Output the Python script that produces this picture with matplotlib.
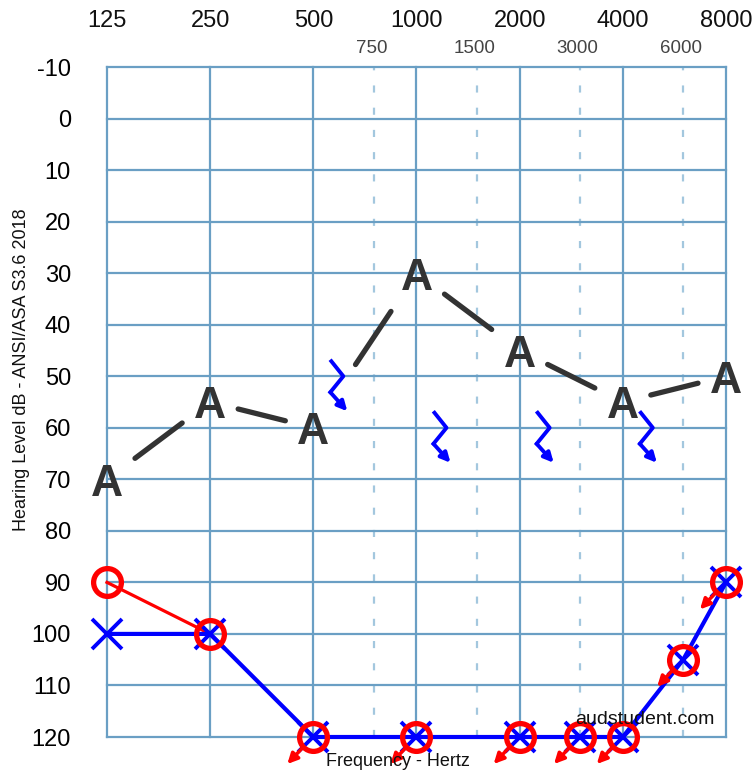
import matplotlib.pyplot as plt
from matplotlib.transforms import ScaledTranslation
from matplotlib.patches import FancyArrowPatch
import numpy as np

plt.rcParams['font.family'] = ['Liberation Sans', 'DejaVu Sans']

# audiogram data
octave_freqs = [125, 250, 500, 1000, 2000, 4000, 8000]
inter_freqs = [750, 1500, 3000, 6000]
db_ticks = [-10, 0, 10, 20, 30, 40, 50, 60, 70, 80, 90, 100, 110, 120]

aided_freqs = [125, 250, 500, 1000, 2000, 4000, 8000]
aided_db = [70, 55, 60, 30, 45, 55, 50]

bone_freqs = [500, 1000, 2000, 4000]
bone_db = [50, 60, 60, 60]

ac_freqs = [125, 250, 500, 1000, 2000, 3000, 4000, 6000, 8000]
right_db = [90, 100, 120, 120, 120, 120, 120, 105, 90]
right_nr = [False, False, True, True, True, True, True, True, True]
left_db = [100, 100, 120, 120, 120, 120, 120, 105, 90]

grid_col = '#6a9fc4'
dash_col = '#a3c7de'

fig = plt.figure(figsize=(7.55, 7.74), dpi=100)
ax = fig.add_axes([107 / 755, 1 - 737 / 774, 619 / 755, 670 / 774])
ax.set_xscale('log', base=2)
ax.set_xlim(125, 8000)
ax.set_ylim(120, -10)
for s in ax.spines.values():
    s.set_visible(False)
ax.set_xticks([])
ax.minorticks_off()
ax.tick_params(axis='x', which='both', length=0, labelbottom=False)
ax.set_yticks(db_ticks)
ax.set_yticklabels([str(t) for t in db_ticks], fontsize=17)
ax.tick_params(axis='y', length=0, pad=26)

# grid
for f in octave_freqs:
    ax.axvline(f, color=grid_col, lw=1.6, zorder=1, clip_on=False)
for f in inter_freqs:
    ax.axvline(f, color=dash_col, lw=1.6, ls=(0, (3.2, 6.8)), zorder=1)
for t in db_ticks:
    ax.axhline(t, color=grid_col, lw=1.6, zorder=1, clip_on=False)

# frequency labels on top
xt = ax.get_xaxis_transform()
narrow = ['Liberation Sans Narrow', 'Liberation Sans', 'DejaVu Sans']
for f in octave_freqs:
    ax.text(f, 1.069, str(f), transform=xt, ha='center', va='center',
            fontsize=17, family=narrow, color='#111111')
for f in inter_freqs:
    ax.text(f * 0.985, 1.027, str(f), transform=xt, ha='center', va='center',
            fontsize=13.5, family=narrow, color='#444444')


def px_trans(x, y):
    # local coordinates in inches around a data point
    return fig.dpi_scale_trans + ScaledTranslation(x, y, ax.transData)


# aided "A" symbols
for f, v in zip(aided_freqs, aided_db):
    ax.text(0, -0.165, 'A', transform=px_trans(f, v), ha='center', va='baseline',
            fontsize=32, fontweight='bold', color='#333333', zorder=6)

# connecting segments, stopped short of the letters
hw, hh = 28, 24
bone_at = dict(zip(bone_freqs, bone_db))
for i in range(len(aided_freqs) - 1):
    f1, f2 = aided_freqs[i], aided_freqs[i + 1]
    v1, v2 = aided_db[i], aided_db[i + 1]
    p1 = ax.transData.transform((f1, v1))
    p2 = ax.transData.transform((f2, v2))
    d = p2 - p1
    L = np.hypot(*d)
    c, s = abs(d[0]) / L, abs(d[1]) / L
    gap = min(hw / c if c > 0 else 1e9, hh / s if s > 0 else 1e9)
    gap_a, gap_b = gap, gap
    if f1 in bone_at and min(v1, v2) < bone_at[f1] < max(v1, v2):
        # keep clear of the bone symbol sitting in the segment's path
        gap_a, gap_b = 76, 46
    ax.annotate('', xy=(f2, v2), xytext=(f1, v1),
                arrowprops=dict(arrowstyle='-', lw=3.8, color='#333333',
                                shrinkA=gap_a * 0.72, shrinkB=gap_b * 0.72))

# bone conduction no-response symbols
for f, v in zip(bone_freqs, bone_db):
    tr = px_trans(f, v)
    ax.plot([0.18, 0.30, 0.17], [0.15, 0.0, -0.16], color='blue', lw=2.8,
            transform=tr, clip_on=False, zorder=5)
    ax.add_patch(FancyArrowPatch((0.17, -0.16), (0.34, -0.35), transform=tr,
                                 arrowstyle='-|>', mutation_scale=14, color='blue',
                                 lw=2.8, shrinkA=0, shrinkB=0, zorder=5,
                                 clip_on=False))

# air conduction
ax.plot(ac_freqs[:2], right_db[:2], color='red', lw=2.3, zorder=3, clip_on=False)
ax.plot(ac_freqs, left_db, color='blue', lw=3, zorder=4, clip_on=False)
ax.plot(ac_freqs, left_db, 'x', ms=21, mew=2.8, color='blue', zorder=4, clip_on=False)
ax.plot(ac_freqs, right_db, 'o', ms=20, mfc='none', mec='red', mew=3.8,
        zorder=5, clip_on=False)
for f, v, nr in zip(ac_freqs, right_db, right_nr):
    if nr:
        ax.add_patch(FancyArrowPatch((-0.11, -0.11), (-0.26, -0.27),
                                     transform=px_trans(f, v), arrowstyle='-|>',
                                     mutation_scale=15, color='red', lw=2.5,
                                     shrinkA=0, shrinkB=0, zorder=4,
                                     clip_on=False))

# labels
fig.text(22 / 755, 1 - 370 / 774, 'Hearing Level dB - ANSI/ASA S3.6 2018',
         rotation=90, ha='center', va='center', fontsize=13, color='#111111')
fig.text(398 / 755, 1 - 761 / 774, 'Frequency - Hertz', ha='center', va='center',
         fontsize=13, color='#111111')
fig.text(645 / 755, 1 - 720 / 774, 'audstudent.com', ha='center', va='center',
         fontsize=14, color='#111111')

fig.savefig('out.png', dpi=100)
